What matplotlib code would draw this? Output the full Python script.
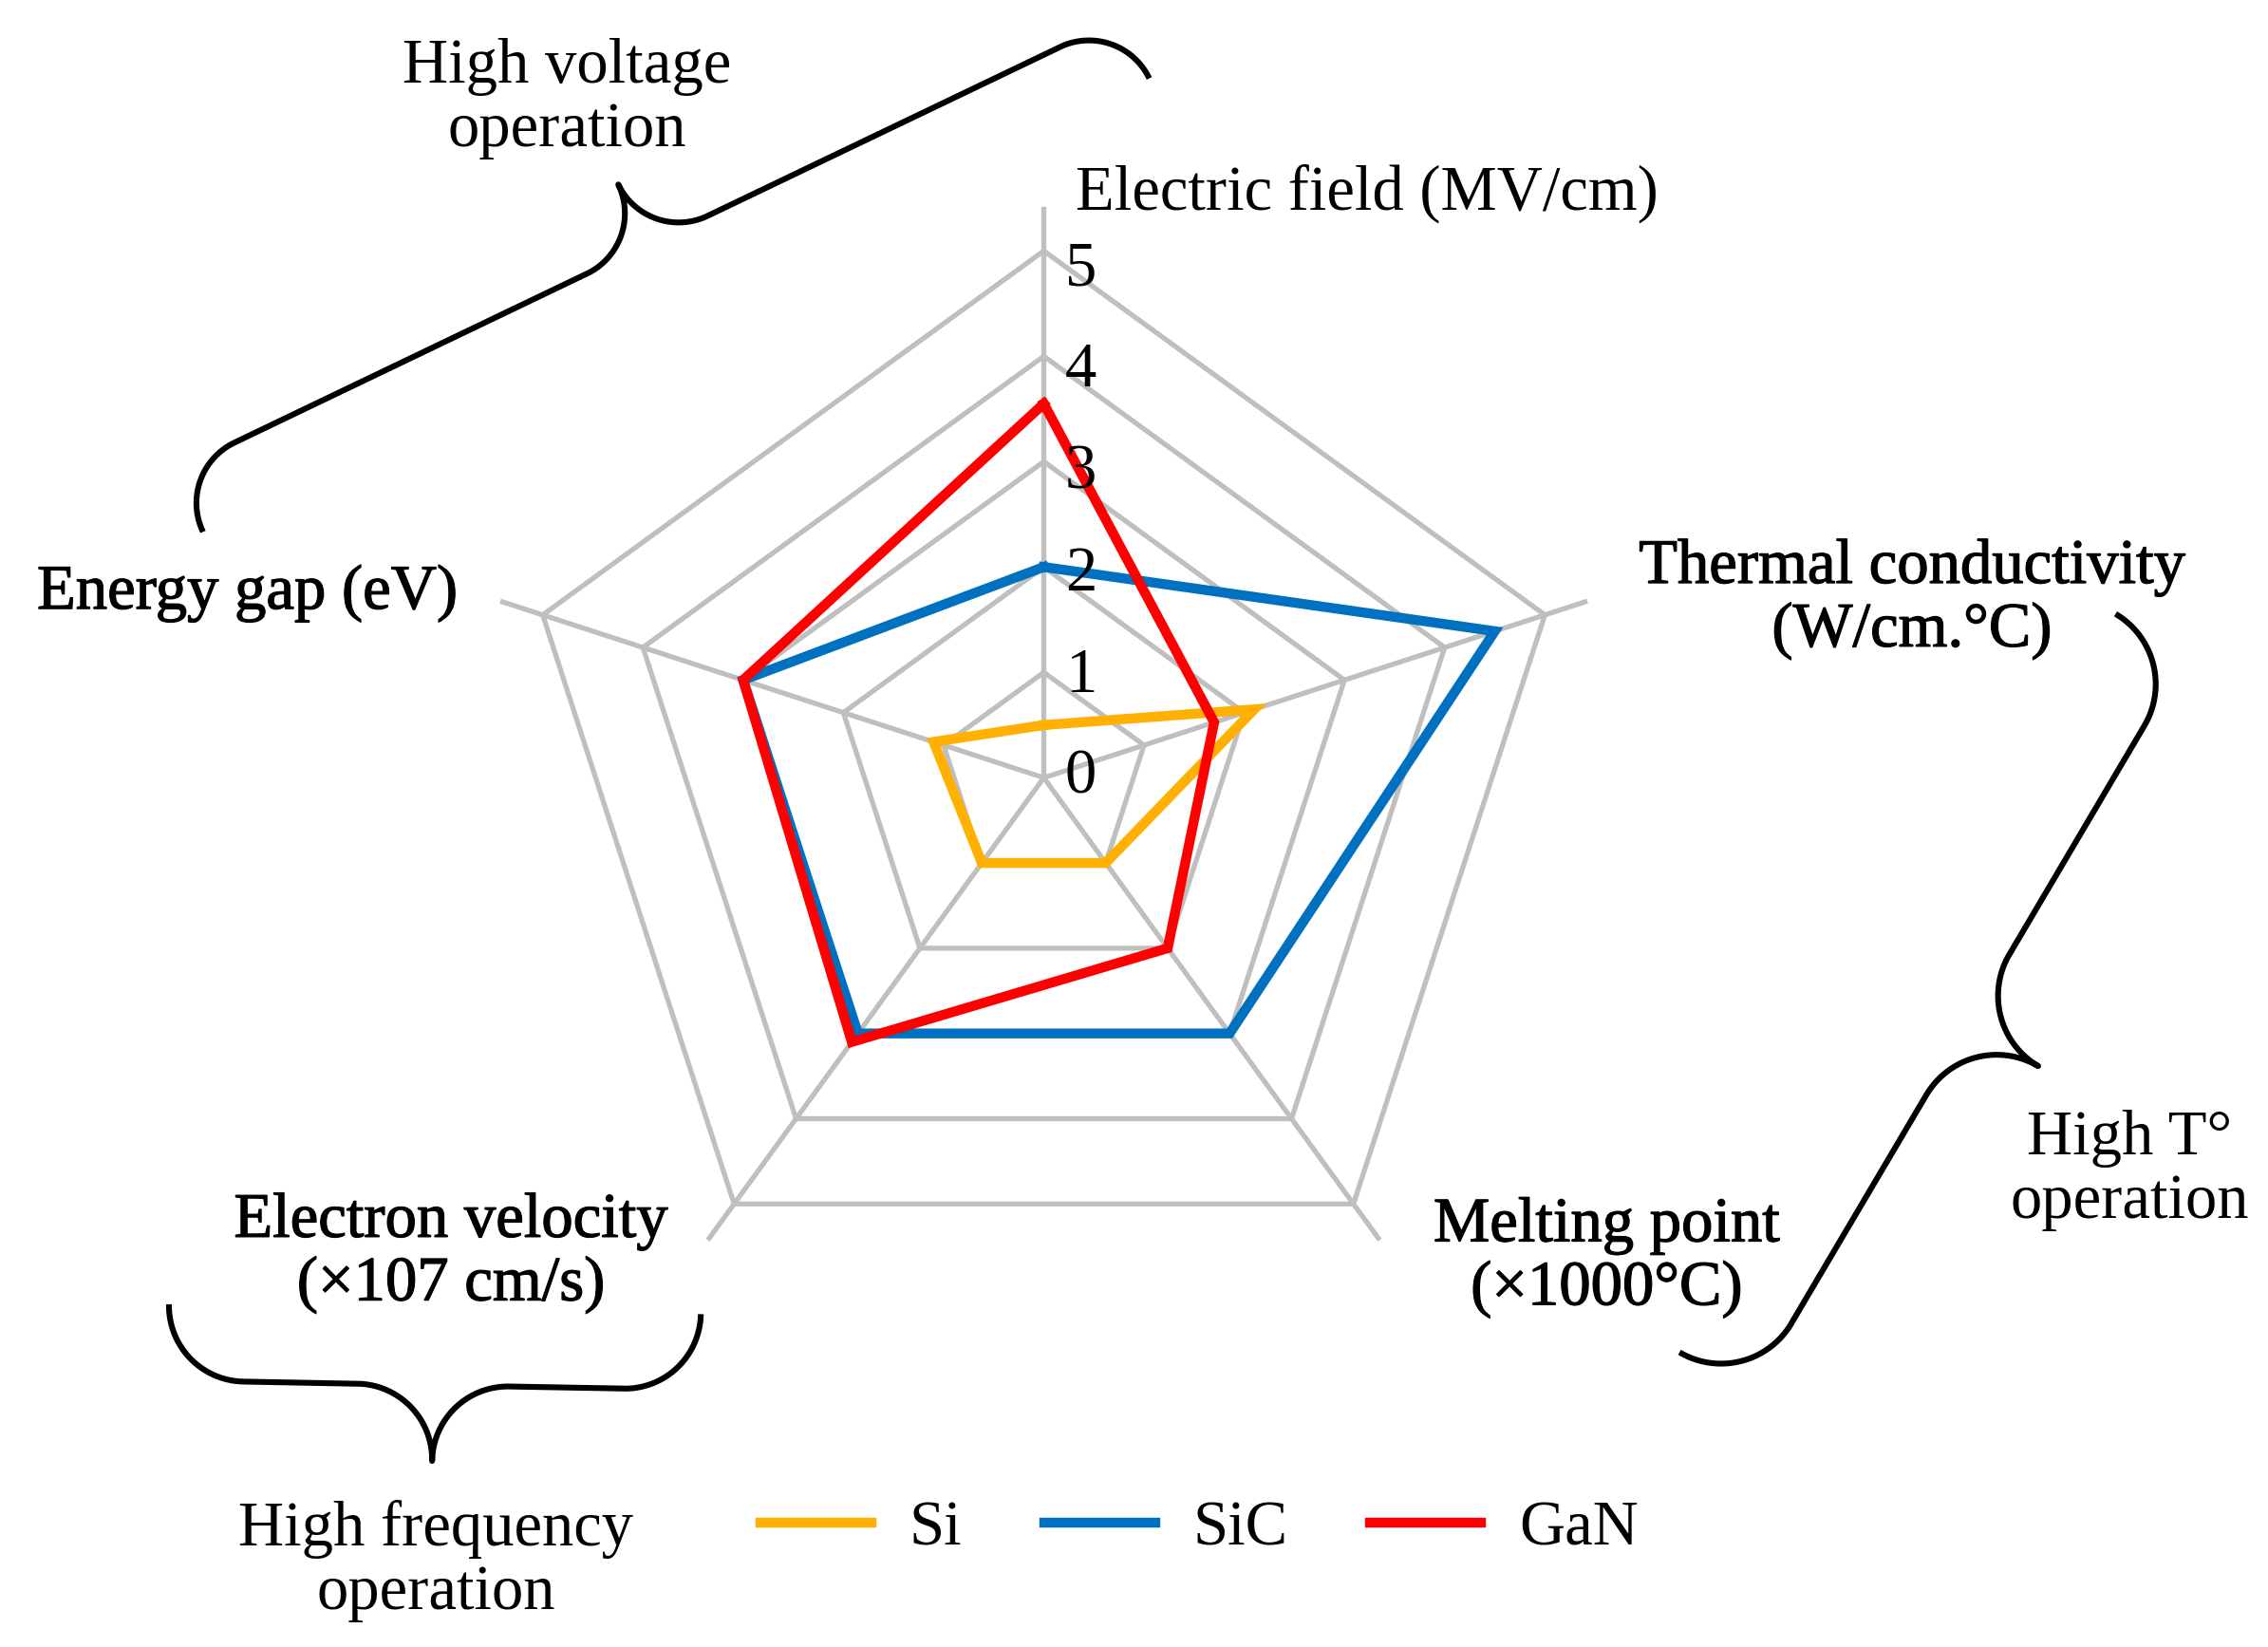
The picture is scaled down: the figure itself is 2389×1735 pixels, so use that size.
import numpy as np
import matplotlib
matplotlib.use('Agg')
import matplotlib.pyplot as plt
import matplotlib.patheffects as pe

plt.rcParams['font.family'] = ['Liberation Serif', 'DejaVu Serif']

# chart data
categories = ['Electric field (MV/cm)', 'Thermal conductivity\n(W/cm.°C)',
              'Melting point\n(×1000°C)', 'Electron velocity\n(×107 cm/s)', 'Energy gap (eV)']
si = [0.5, 2.1, 1.0, 1.0, 1.1]
sic = [2.0, 4.5, 3.0, 3.0, 3.0]
gan = [3.55, 1.7, 2.0, 3.1, 3.0]
levels = [0, 1, 2, 3, 4, 5]
names = ['Si', 'SiC', 'GaN']
colors = ['#FFB000', '#0070C0', '#FF0000']
groups = ['High voltage\noperation', 'High T°\noperation', 'High frequency\noperation']

FS = 48
GRAY = '#BFBFBF'

fig = plt.figure(figsize=(23.89, 17.35), dpi=100)
ax = fig.add_axes([0, 0, 1, 1])
ax.set_xlim(-9.905, 11.617)
ax.set_ylim(-8.250, 7.381)
ax.set_aspect('equal')
ax.axis('off')

theta = np.deg2rad(90 - 72 * np.arange(len(categories)))


def to_xy(vals):
    vals = np.asarray(vals, dtype=float)
    v = np.r_[vals, vals[:1]]
    t = np.r_[theta, theta[:1]]
    return v * np.cos(t), v * np.sin(t)


# grid rings and spokes
for lv in levels[1:]:
    x, y = to_xy([lv] * len(categories))
    ax.plot(x, y, color=GRAY, lw=3.8, solid_joinstyle='miter', zorder=1)
for t in theta:
    ax.plot([0, 5.4 * np.cos(t)], [0, 5.4 * np.sin(t)], color=GRAY, lw=3.8, zorder=1)

# tick labels along the top spoke
for lv in levels:
    ax.text(0.2, lv * 0.965, str(lv), fontsize=FS, ha='left', va='center', zorder=4)

# series
for vals, name, c in zip([si, sic, gan], names, colors):
    x, y = to_xy(vals)
    ax.plot(x, y, color=c, lw=7.5, solid_joinstyle='miter', label=name, zorder=3)

# axis labels
bold = [pe.withStroke(linewidth=0.9, foreground='black')]
ax.text(0.30, 5.546, categories[0], fontsize=FS, ha='left', va='center')
ax.text(8.237, 1.697, categories[1], fontsize=FS, ha='center', va='center',
        linespacing=1.12, path_effects=bold)
ax.text(5.340, -4.553, categories[2], fontsize=FS, ha='center', va='center',
        linespacing=1.12, path_effects=bold)
ax.text(-5.628, -4.511, categories[3], fontsize=FS, ha='center', va='center',
        linespacing=1.12, path_effects=bold)
ax.text(-7.560, 1.752, categories[4], fontsize=FS, ha='center', va='center',
        path_effects=bold)

# group labels
ax.text(-4.525, 6.443, groups[0], fontsize=FS, ha='center', va='center', linespacing=1.12)
ax.text(10.306, -3.725, groups[1], fontsize=FS, ha='center', va='center', linespacing=1.12)
ax.text(-5.766, -7.436, groups[2], fontsize=FS, ha='center', va='center', linespacing=1.12)


def brace(p1, p2, depth, side=1, lw=4.4):
    p1, p2 = np.array(p1, float), np.array(p2, float)
    d = p2 - p1
    L = np.hypot(*d)
    u = d / L
    n = np.array([-u[1], u[0]]) * side
    r = depth / 2
    t = np.linspace(0, np.pi / 2, 40)
    a1 = np.c_[r - r * np.cos(t), r * np.sin(t)]
    a2 = np.c_[L / 2 - r + r * np.sin(t), 2 * r - r * np.cos(t)]
    half = np.r_[a1, a2]
    other = np.c_[L - half[:, 0], half[:, 1]][::-1]
    loc = np.r_[half, other]
    pts = p1 + np.outer(loc[:, 0], u) + np.outer(loc[:, 1], n)
    ax.plot(pts[:, 0], pts[:, 1], color='black', lw=lw, solid_capstyle='butt', zorder=2)


brace((-7.979, 2.333), (1.001, 6.637), 1.27, side=1)
brace((10.171, 1.555), (6.033, -5.453), 1.55, side=1)
brace((-8.302, -4.998), (-3.255, -5.091), 1.44, side=-1)

ax.legend(loc='center', bbox_to_anchor=(1.477, -7.132), bbox_transform=ax.transData,
          ncol=3, frameon=False, fontsize=FS, handlelength=1.75, handletextpad=0.6,
          columnspacing=1.3)

fig.savefig('out.png', dpi=100)
